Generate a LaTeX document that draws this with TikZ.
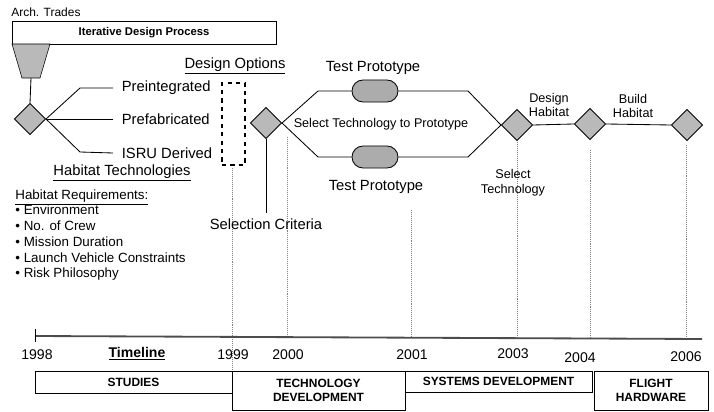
\documentclass[tikz,border=0pt]{standalone}
\usepackage{fontspec}
\setmainfont{Liberation Sans}
\usetikzlibrary{calc}
\usetikzlibrary{positioning}
\usetikzlibrary{shapes}

\begin{document}
\begin{tikzpicture}[x=0.025cm, y=-0.025cm, line width=0.6pt,
gate/.style={diamond,aspect=1,draw,fill=gray!55,inner sep=0pt,minimum size=0.78cm,name=#1},
pill/.style={rounded rectangle,draw,fill=gray!65,inner sep=0pt,minimum width=1.15cm,minimum height=0.55cm,name=#1},
big/.style={font=\fontsize{10.5}{12}\selectfont},
small/.style={font=\fontsize{9}{10.5}\selectfont,align=center},
phase/.style={draw,line width=0.4pt,inner sep=0pt,font=\bfseries\fontsize{8.5}{10}\selectfont,align=center},
guide/.style={gray,densely dotted,line width=0.4pt}]

\useasboundingbox (0,0) rectangle (714,412);

% guides down to the timeline
\draw[guide] (232,168) -- (232,371);
\draw[guide] (287,137) -- (287,337);
\draw[guide] (411,210) -- (411,337);
\draw[guide] (517,142) -- (517,337);
\draw[guide] (590,150) -- (590,338);
\draw[guide] (686,145) -- (686,339);

% timeline
\coordinate (t0) at (35,336);
\coordinate (t1) at (702,339);
\draw[line width=1.3pt, gray!60!black] (t0) -- (t1);
\draw[line width=0.4pt] (35,329) -- (35,342);

% top process
\node[anchor=west, inner sep=0pt, font=\fontsize{8.5}{10}\selectfont] (arch) at (11,12) {Arch. Trades};
\node[phase, font=\bfseries\fontsize{8}{10}\selectfont, minimum width=6.6cm, minimum height=0.575cm] (iter) at (144,32.5) {Iterative Design Process};
\draw[fill=gray!55, line width=0.4pt] (12,44) -- (50,44) -- (40,78) -- (22,78) -- cycle;
\coordinate (funnel) at (31,78);

% gates
\node[gate=d1] at (30,119) {};
\node[gate=d2] at (266,123) {};
\node[gate=d3] at (517,125) {};
\node[gate=d4] at (590,124) {};
\node[gate=d5] at (687,125) {};
\draw (funnel) -- (d1.north);

% habitat technologies
\coordinate (b1) at (80,88);
\coordinate (b3) at (80,152);
\node[big, anchor=west, inner xsep=6pt] (pre) at (113,88) {Preintegrated};
\node[big, anchor=west, inner xsep=6pt] (fab) at (113,119) {Prefabricated};
\node[big, anchor=west, inner xsep=6pt] (isru) at (113,153) {ISRU Derived};
\draw (d1.east) -- (b1) -- (pre.west);
\draw (d1.east) -- (fab.west);
\draw (d1.east) -- (b3) -- (isru.west);
\node[big] (tech) at (122,173) {\underline{Habitat Technologies}};
\node[anchor=north west, align=left, inner sep=0pt, font=\fontsize{9.5}{11.2}\selectfont] (req) at (15,189)
  {\underline{Habitat Requirements:}\\
   \textbullet\ Environment\\
   \textbullet\ No. of Crew\\
   \textbullet\ Mission Duration\\
   \textbullet\ Launch Vehicle Constraints\\
   \textbullet\ Risk Philosophy};

% design options
\node[big] (opt) at (235,66) {\underline{Design Options}};
\node[draw, dashed, line width=1.2pt, inner sep=0pt, minimum width=0.575cm, minimum height=2.05cm] (optbox) at (233.5,124) {};
\node[big] (crit) at (266,224) {Selection Criteria};
\draw (d2.south) -- (crit.north);

% prototypes
\node[pill=p1] at (375,91) {};
\node[pill=p2] at (375,157) {};
\node[big] (tp1) at (373,68) {Test Prototype};
\node[big] (tp2) at (376,187) {Test Prototype};
\node[small] (sel) at (381,124) {Select Technology to Prototype};
\coordinate (u1) at (318,91);
\coordinate (u2) at (468,91);
\coordinate (l1) at (318,157);
\coordinate (l2) at (468,157);
\draw (d2.east) -- (u1) -- (p1.west);
\draw (p1.east) -- (u2) -- (d3.west);
\draw (d2.east) -- (l1) -- (p2.west);
\draw (p2.east) -- (l2) -- (d3.west);

% habitat
\draw (d3.east) -- (d4.west);
\draw (d4.east) -- (d5.west);
\node[small] (dh) at (549,105) {Design\\Habitat};
\node[small] (bh) at (633,106) {Build\\Habitat};
\node[small] (st) at (513,183) {Select\\Technology};

% years
\begin{scope}[font=\fontsize{10}{12}\selectfont]
\node (y98) at (37,355) {1998};
\node[font=\bfseries\fontsize{10}{12}\selectfont] (tl) at (137,354) {\underline{Timeline}};
\node (y99) at (233,355) {1999};
\node (y00) at (288,355) {2000};
\node (y01) at (412,355) {2001};
\node (y03) at (513,354) {2003};
\node (y04) at (580,358) {2004};
\node (y06) at (686,357) {2006};
\end{scope}

% phases
\node[phase, minimum width=4.925cm, minimum height=0.55cm] (studies) at (133.5,382) {STUDIES};
\node[phase, minimum width=4.325cm, minimum height=0.975cm] (techdev) at (318.5,390.5) {TECHNOLOGY\\DEVELOPMENT};
\node[phase, minimum width=4.675cm, minimum height=0.525cm] (sysdev) at (498.5,381.5) {SYSTEMS DEVELOPMENT};
\node[phase, minimum width=2.85cm, minimum height=0.975cm] (flight) at (651,390.5) {FLIGHT\\HARDWARE};

\end{tikzpicture}
\end{document}
